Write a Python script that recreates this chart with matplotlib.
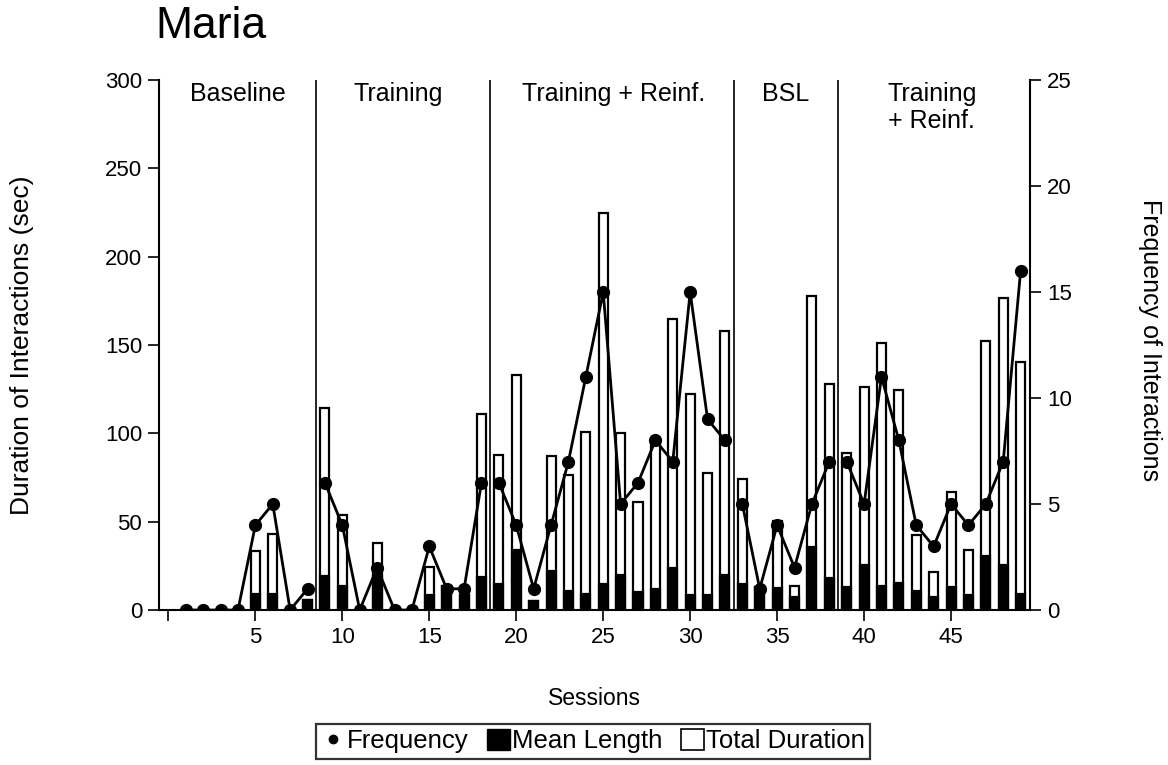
import matplotlib
matplotlib.use('Agg')
import matplotlib.pyplot as plt
from matplotlib.lines import Line2D
from matplotlib.patches import Patch
import numpy as np

plt.rcParams['font.family'] = ['Liberation Sans', 'DejaVu Sans']

# datos (sesiones 1-49)
sessions = np.arange(1, 50)
frequency = [0, 0, 0, 0, 4, 5, 0, 1, 6, 4,
             0, 2, 0, 0, 3, 1, 1, 6, 6, 4,
             1, 4, 7, 11, 15, 5, 6, 8, 7, 15,
             9, 8, 5, 1, 4, 2, 5, 7, 7, 5,
             11, 8, 4, 3, 5, 4, 5, 7, 16]
total_duration = [0, 0, 0, 0, 33.6, 42.8, 0, 5.5, 114.5, 53.8,
                  0, 37.7, 0, 0, 24.5, 13.8, 8.5, 111, 88, 133,
                  5.3, 87.4, 76.2, 101, 224.5, 100, 61.3, 96, 164.5, 122,
                  77.4, 157.7, 74, 13.2, 50.6, 13.8, 177.7, 127.7, 88.7, 126.4,
                  151.3, 124.5, 42.5, 21.3, 66.6, 34, 152.3, 176.4, 140.6]
mean_length = [0, 0, 0, 0, 9, 9, 0, 5.5, 19.5, 13.5,
               0, 19, 0, 0, 8.5, 13.8, 8.5, 18.9, 15, 34,
               5.3, 22, 11, 9.3, 15, 20, 10.3, 12, 24, 8.3,
               8.7, 19.8, 15, 13.2, 12.6, 7.2, 35.6, 18.3, 12.8, 25.4,
               13.8, 15.5, 10.7, 7.2, 13.3, 8.5, 30.6, 25.3, 8.8]

# fases: limites y etiquetas
phase_breaks = [8.5, 18.5, 32.5, 38.5]
phase_names = ['Baseline', 'Training', 'Training + Reinf.', 'BSL', 'Training\n+ Reinf.']
phase_centers = [4.0, 13.2, 25.6, 35.5, 43.9]

fig = plt.figure(figsize=(11.68, 7.65), dpi=100)
ax = fig.add_axes([0.136, 0.2026, 0.746, 0.6928])

ax.bar(sessions, total_duration, width=0.52, color='white', edgecolor='black', linewidth=1.6, zorder=2)
ax.bar(sessions, mean_length, width=0.52, color='black', edgecolor='black', linewidth=1.6, zorder=3)

for xb in phase_breaks:
    ax.plot([xb, xb], [0, 300], color='black', linewidth=1.2, zorder=1)

for name, xc in zip(phase_names, phase_centers):
    ax.text(xc, 299, name, ha='center', va='top', fontsize=18, linespacing=1.15)

ax.set_xlim(-0.55, 49.55)
ax.set_ylim(0, 300)
ax.set_yticks(range(0, 301, 50))
ax.set_xticks(range(0, 50, 5))
ax.set_xticklabels([''] + [str(v) for v in range(5, 50, 5)])
ax.tick_params(direction='out', length=8, width=1.2, labelsize=16, pad=4)
ax.spines['top'].set_visible(False)
ax.spines['right'].set_visible(False)
for s in ['left', 'bottom']:
    ax.spines[s].set_linewidth(1.5)
ax.set_xlabel('Sessions', fontsize=16.5)
ax.xaxis.set_label_coords(0.5, -0.145)
ax.set_ylabel('Duration of Interactions (sec)', fontsize=19, va='center')
ax.yaxis.set_label_coords(-0.157, 0.5)

# frecuencia en el eje derecho, la linea se corta en cada cambio de fase
ax2 = ax.twinx()
edges = [0.5] + phase_breaks + [49.5]
freq = np.array(frequency)
for a, b in zip(edges[:-1], edges[1:]):
    m = (sessions > a) & (sessions < b)
    ax2.plot(sessions[m], freq[m], color='black', linewidth=2, marker='o', markersize=8.5, zorder=5)
ax2.set_ylim(0, 25)
ax2.set_yticks(range(0, 26, 5))
ax2.tick_params(direction='out', length=8, width=1.2, labelsize=16, pad=4)
ax2.spines['top'].set_visible(False)
ax2.spines['left'].set_visible(False)
ax2.spines['bottom'].set_visible(False)
ax2.spines['right'].set_linewidth(1.5)
ax2.set_ylabel('Frequency of Interactions', fontsize=18, rotation=-90, va='center', ha='center')
ax2.yaxis.set_label_coords(1.138, 0.51)

handles = [Line2D([], [], color='black', marker='o', linestyle='none', markersize=6),
           Patch(facecolor='black', edgecolor='black'),
           Patch(facecolor='white', edgecolor='black', linewidth=1.2)]
leg = fig.legend(handles, ['Frequency', 'Mean Length', 'Total Duration'], loc='lower center',
                 bbox_to_anchor=(0.508, 0.0), ncol=3, fontsize=18.5, frameon=True, fancybox=False,
                 edgecolor='black', handlelength=0.9, handleheight=0.9, handletextpad=0.1,
                 columnspacing=0.7, borderpad=0.2, borderaxespad=0.25)
leg.get_frame().set_linewidth(1.6)

fig.text(155 / 1168, 1 - 26 / 765, 'Maria', fontsize=32, ha='left', va='center')

fig.savefig('out.png', dpi=100)
